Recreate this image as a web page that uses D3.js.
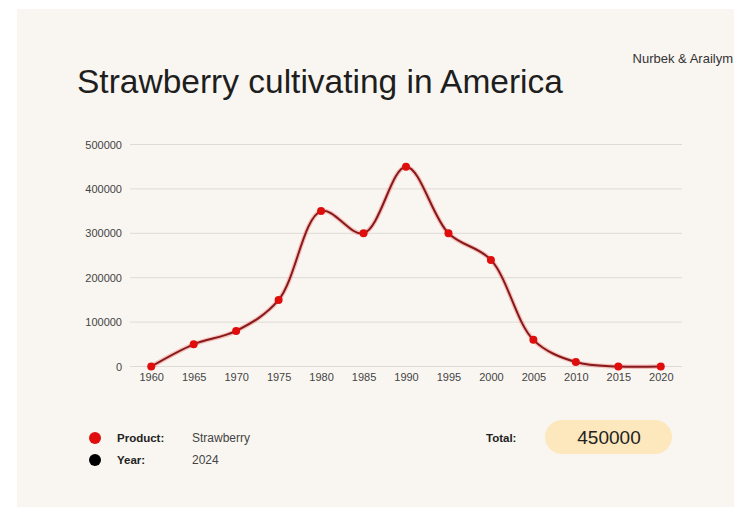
<!DOCTYPE html>
<html>
<head>
<meta charset="utf-8">
<script src="https://d3js.org/d3.v7.min.js"></script>
<style>
  body { margin: 0; background: #fff; }
  svg { display: block; font-family: "Liberation Sans", Arial, sans-serif; }
</style>
</head>
<body>
<svg id="chart" width="734" height="507"></svg>
<script>
// data
var years = ["1960", "1965", "1970", "1975", "1980", "1985", "1990", "1995", "2000", "2005", "2010", "2015", "2020"];
var values = [0, 50000, 80000, 150000, 350000, 300000, 450000, 300000, 240000, 60000, 10000, 0, 0];
var yTicks = [0, 100000, 200000, 300000, 400000, 500000];
var legendLabels = ["Product:", "Year:"];
var legendValues = ["Strawberry", "2024"];
var legendColors = ["#e00d0d", "#000000"];
var totalValue = 450000;

var svg = d3.select("#chart");

// card
svg.append("rect")
  .attr("x", 17).attr("y", 9)
  .attr("width", 717).attr("height", 498)
  .attr("fill", "#f9f6f1");

svg.append("text")
  .attr("x", 77).attr("y", 93)
  .attr("font-size", 33.5)
  .attr("fill", "#1e1e1e")
  .text("Strawberry cultivating in America");

svg.append("text")
  .attr("x", 733).attr("y", 63)
  .attr("text-anchor", "end")
  .attr("font-size", 13)
  .attr("fill", "#333")
  .text("Nurbek & Arailym");

var x = d3.scalePoint().domain(years).range([130, 682]).padding(0.5);
var y = d3.scaleLinear().domain([0, 500000]).range([366.5, 144.5]);

// gridlines
svg.append("g")
  .selectAll("line")
  .data(yTicks)
  .enter()
  .append("line")
  .attr("x1", 130).attr("x2", 682)
  .attr("y1", function(d) { return y(d); })
  .attr("y2", function(d) { return y(d); })
  .attr("stroke", "#dedbd6")
  .attr("stroke-width", 1);

var yAxis = svg.append("g")
  .attr("transform", "translate(122,0)")
  .call(d3.axisLeft(y).tickValues(yTicks).tickSize(0).tickPadding(0).tickFormat(d3.format("d")));
yAxis.select(".domain").remove();
yAxis.selectAll("text").attr("font-size", 11).attr("fill", "#444")
  .attr("font-family", "Liberation Sans, Arial, sans-serif");

var xAxis = svg.append("g")
  .attr("transform", "translate(0,373)")
  .call(d3.axisBottom(x).tickSize(0).tickPadding(0));
xAxis.select(".domain").remove();
xAxis.selectAll("text").attr("font-size", 11).attr("fill", "#444")
  .attr("font-family", "Liberation Sans, Arial, sans-serif");

var pts = years.map(function(yr, i) { return { year: yr, value: values[i] }; });

var line = d3.line()
  .x(function(d) { return x(d.year); })
  .y(function(d) { return y(d.value); })
  .curve(d3.curveCatmullRom.alpha(0.5));

// soft red halo under the line
svg.append("path")
  .datum(pts)
  .attr("d", line)
  .attr("fill", "none")
  .attr("stroke", "#f05a5a")
  .attr("stroke-opacity", 0.35)
  .attr("stroke-width", 4.5);

svg.append("path")
  .datum(pts)
  .attr("d", line)
  .attr("fill", "none")
  .attr("stroke", "#861a1a")
  .attr("stroke-width", 2);

svg.append("g")
  .selectAll("circle")
  .data(pts)
  .enter()
  .append("circle")
  .attr("cx", function(d) { return x(d.year); })
  .attr("cy", function(d) { return y(d.value); })
  .attr("r", 4)
  .attr("fill", "#e00d0d");

// legend
var leg = svg.append("g")
  .selectAll("g")
  .data(legendLabels)
  .enter()
  .append("g")
  .attr("transform", function(d, i) { return "translate(0," + (438 + i * 22) + ")"; });

leg.append("circle")
  .attr("cx", 95).attr("cy", 0).attr("r", 6)
  .attr("fill", function(d, i) { return legendColors[i]; });

leg.append("text")
  .attr("x", 117).attr("y", 4)
  .attr("font-size", 11.5)
  .attr("font-weight", "bold")
  .attr("fill", "#222")
  .text(function(d) { return d; });

leg.append("text")
  .attr("x", 192).attr("y", 4)
  .attr("font-size", 12)
  .attr("fill", "#444")
  .text(function(d, i) { return legendValues[i]; });

svg.append("text")
  .attr("x", 486).attr("y", 442)
  .attr("font-size", 11.5)
  .attr("font-weight", "bold")
  .attr("fill", "#222")
  .text("Total:");

svg.append("rect")
  .attr("x", 545).attr("y", 420)
  .attr("width", 127).attr("height", 34)
  .attr("rx", 17)
  .attr("fill", "#fde7bd");

svg.append("text")
  .attr("x", 609).attr("y", 444)
  .attr("text-anchor", "middle")
  .attr("font-size", 19)
  .attr("fill", "#222")
  .text(d3.format("d")(totalValue));
</script>
</body>
</html>
